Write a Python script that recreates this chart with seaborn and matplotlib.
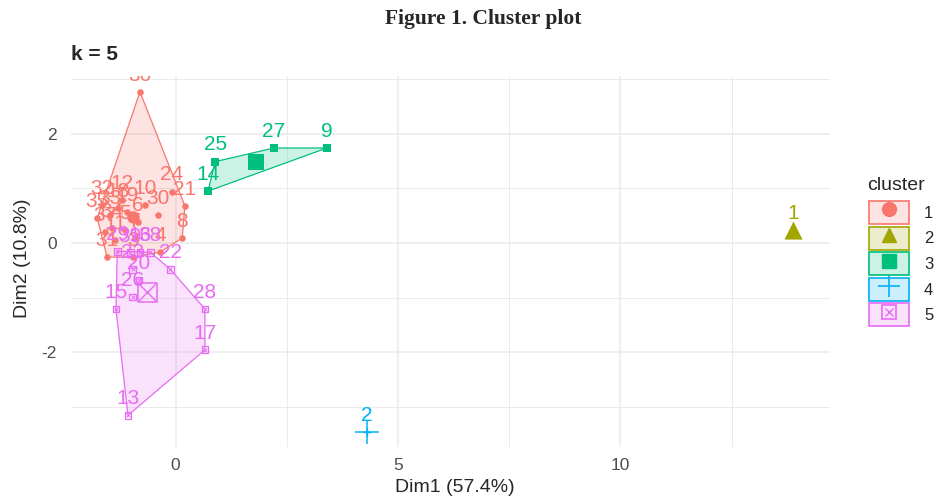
import numpy as np
import pandas as pd
import matplotlib
matplotlib.use("Agg")
import matplotlib.pyplot as plt
import matplotlib.transforms as mtransforms
import seaborn as sns
from matplotlib.patches import Polygon, Patch
from matplotlib.lines import Line2D
from matplotlib.colors import to_rgba

obs_labels = ["30", "24", "21", "30", "8", "31", "3", "4", "32", "33", "18", "12", "19",
              "34", "5", "6", "35", "7", "37", "10", "11",
              "1",
              "25", "27", "9", "14",
              "2",
              "13", "17", "28", "22", "15", "26", "20", "23", "29", "16", "38", "39"]
dim1 = [-0.80, -0.08, 0.21, -0.39, 0.15, -1.54, -0.96, -0.35, -1.65, -1.47, -1.29, -1.20, -1.09,
        -1.43, -1.13, -0.84, -1.76, -0.91, -1.58, -0.69, -1.36,
        13.88,
        0.89, 2.21, 3.40, 0.73,
        4.30,
        -1.07, 0.66, 0.66, -0.12, -1.34, -0.96, -0.82, -0.96, -1.31, -0.80, -0.57, -1.02]
dim2 = [2.77, 0.94, 0.68, 0.51, 0.09, -0.26, -0.26, -0.17, 0.70, 0.51, 0.64, 0.79, 0.57,
        0.28, 0.24, 0.39, 0.46, 0.09, 0.20, 0.70, 0.06,
        0.24,
        1.49, 1.74, 1.74, 0.95,
        -3.47,
        -3.16, -1.96, -1.21, -0.48, -1.21, -0.99, -0.68, -0.48, -0.15, -0.17, -0.17, -0.18]
cluster = [1] * 21 + [2] + [3] * 4 + [4] + [5] * 12

cluster_ids = [1, 2, 3, 4, 5]
cluster_colors = ["#F8766D", "#A3A500", "#00BF7D", "#00B0F6", "#E76BF3"]
x_ticks = [0, 5, 10]
y_ticks = [-2, 0, 2]

df = pd.DataFrame({"label": obs_labels, "Dim1": dim1, "Dim2": dim2, "cluster": cluster})
centers = df.groupby("cluster")[["Dim1", "Dim2"]].mean()


def convex_hull(points):
    pts = sorted(set(map(tuple, points)))
    if len(pts) <= 2:
        return pts

    def cross(o, a, b):
        return (a[0] - o[0]) * (b[1] - o[1]) - (a[1] - o[1]) * (b[0] - o[0])

    lower, upper = [], []
    for p in pts:
        while len(lower) >= 2 and cross(lower[-2], lower[-1], p) <= 0:
            lower.pop()
        lower.append(p)
    for p in reversed(pts):
        while len(upper) >= 2 and cross(upper[-2], upper[-1], p) <= 0:
            upper.pop()
        upper.append(p)
    return lower[:-1] + upper[:-1]


sns.set_theme(style="white")
plt.rcParams["font.family"] = ["Liberation Sans", "DejaVu Sans"]
plt.rcParams["axes.unicode_minus"] = False

fig = plt.figure(figsize=(9.52, 4.97), dpi=100)
ax = fig.add_axes([71 / 952, 1 - 447 / 497, 759 / 952, (447 - 76) / 497])

# hulls
for cid, col in zip(cluster_ids, cluster_colors):
    sub = df[df["cluster"] == cid]
    if len(sub) < 3:
        continue
    hull = convex_hull(sub[["Dim1", "Dim2"]].values)
    ax.add_patch(Polygon(hull, closed=True, facecolor=to_rgba(col, 0.2),
                         edgecolor=col, linewidth=0.9, zorder=2))

# points + centroids
for cid, col in zip(cluster_ids, cluster_colors):
    sub = df[df["cluster"] == cid]
    cx, cy = centers.loc[cid, "Dim1"], centers.loc[cid, "Dim2"]
    if cid == 1:
        sns.scatterplot(x=sub["Dim1"], y=sub["Dim2"], ax=ax, color=col, marker="o", s=22,
                        linewidth=0, legend=False, zorder=3)
        ax.scatter([cx], [cy], color=col, marker="o", s=80, linewidth=0, zorder=4)
    elif cid == 2:
        sns.scatterplot(x=sub["Dim1"], y=sub["Dim2"], ax=ax, color=col, marker="^", s=28,
                        linewidth=0, legend=False, zorder=3)
        ax.scatter([cx], [cy], color=col, marker="^", s=170, linewidth=0, zorder=4)
    elif cid == 3:
        sns.scatterplot(x=sub["Dim1"], y=sub["Dim2"], ax=ax, color=col, marker="s", s=26,
                        linewidth=0, legend=False, zorder=3)
        ax.scatter([cx], [cy], color=col, marker="s", s=130, linewidth=0, zorder=4)
    elif cid == 4:
        ax.scatter(sub["Dim1"], sub["Dim2"], color=col, marker="+", s=40, linewidth=1, zorder=3)
        ax.scatter([cx], [cy], color=col, marker="+", s=300, linewidth=1.1, zorder=4)
    else:
        ax.scatter(sub["Dim1"], sub["Dim2"], facecolors="none", edgecolors=col, marker="s",
                   s=24, linewidth=0.9, zorder=3)
        ax.scatter(sub["Dim1"], sub["Dim2"], color=col, marker="x", s=8, linewidth=0.7, zorder=3)
        ax.scatter([cx], [cy], facecolors="none", edgecolors=col, marker="s", s=180,
                   linewidth=1.1, zorder=4)
        ax.scatter([cx], [cy], color=col, marker="x", s=150, linewidth=1.0, zorder=4)

# point labels, a little above each point
label_tr = mtransforms.offset_copy(ax.transData, fig=fig, x=0, y=12, units="points")
for _, row in df.iterrows():
    col = cluster_colors[cluster_ids.index(row["cluster"])]
    t = ax.text(row["Dim1"], row["Dim2"], row["label"], transform=label_tr, color=col,
                fontsize=15, ha="center", va="center", zorder=5)
    t.set_clip_on(True)
    t.set_clip_box(ax.bbox)

ax.set_xlim(-2.35, 14.71)
ax.set_ylim(-3.74, 3.06)
ax.set_xticks(x_ticks)
ax.set_yticks(y_ticks)
ax.set_xticks([2.5, 7.5, 12.5], minor=True)
ax.set_yticks([-3, -1, 1, 3], minor=True)
ax.grid(which="major", color="#EBEBEB", linewidth=1.1, zorder=0)
ax.grid(which="minor", color="#EBEBEB", linewidth=0.7, zorder=0)
ax.set_axisbelow(True)
ax.tick_params(which="both", length=0, labelsize=12.5, labelcolor="#4D4D4D")
ax.tick_params(axis="x", pad=8)
ax.tick_params(axis="y", pad=10)
sns.despine(ax=ax, left=True, bottom=True)

ax.set_xlabel("Dim1 (57.4%)", fontsize=14)
ax.set_ylabel("Dim2 (10.8%)", fontsize=14)
ax.xaxis.set_label_coords((455 - 71) / 759, -(479 - 447) / 371)
ax.yaxis.set_label_coords(-(71 - 31) / 759, (447 - 258) / 371)

fig.text(483 / 952, 1 - 19 / 497, "Figure 1. Cluster plot", fontsize=15.5, fontweight="bold",
         family=["Liberation Serif", "DejaVu Serif"], ha="center", va="center")
fig.text(71 / 952, 1 - 55 / 497, "k = 5", fontsize=15, fontweight="bold",
         ha="left", va="center")

# legend
markers = {1: "o", 2: "^", 3: "s"}
handles = []
for cid, col in zip(cluster_ids, cluster_colors):
    box = Patch(facecolor=to_rgba(col, 0.2), edgecolor=col, linewidth=1.2)
    if cid in markers:
        h = (box, Line2D([], [], marker=markers[cid], color=col, markersize=10, linestyle="none"))
    elif cid == 4:
        h = (box, Line2D([], [], marker="+", color=col, markersize=16, markeredgewidth=1.2,
                         linestyle="none"))
    else:
        h = (box,
             Line2D([], [], marker="s", markerfacecolor="none", markeredgecolor=col,
                    markersize=10, markeredgewidth=1.2, linestyle="none"),
             Line2D([], [], marker="x", color=col, markersize=6, markeredgewidth=1,
                    linestyle="none"))
    handles.append(h)

fig.text(867 / 952, 1 - 185 / 497, "cluster", fontsize=14, ha="left", va="center")
fig.legend(handles, [str(c) for c in cluster_ids], loc="upper left",
           bbox_to_anchor=(869 / 952, 1 - 201 / 497), frameon=False, fontsize=12,
           handlelength=2.4, handleheight=1.75, labelspacing=0.15, handletextpad=0.9,
           borderpad=0, borderaxespad=0)

fig.savefig("out.png", dpi=100)
